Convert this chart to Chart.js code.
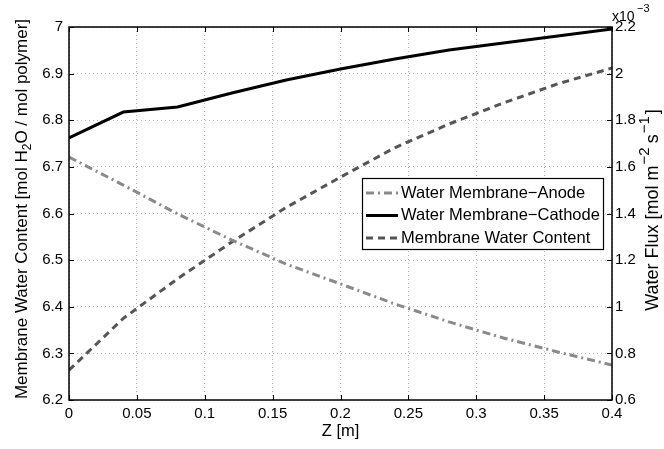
<!DOCTYPE html>
<html>
<head>
<meta charset="utf-8">
<script src="https://cdn.jsdelivr.net/npm/chart.js@4"></script>
<style>
  body { margin: 0; background: #fff; }
  canvas { display: block; }
</style>
</head>
<body>
<canvas id="fluxChart" width="664" height="449"></canvas>
<script>
// Data
const zValues = [0, 0.04, 0.08, 0.12, 0.16, 0.2, 0.24, 0.28, 0.32, 0.36, 0.4];
// water flux, in units of 1e-3 mol m^-2 s^-1 (right axis)
const anodeFlux = [1.642, 1.522, 1.398, 1.286, 1.183, 1.098, 1.012, 0.935, 0.866, 0.806, 0.750];
const cathodeFlux = [1.724, 1.835, 1.857, 1.917, 1.973, 2.020, 2.063, 2.101, 2.131, 2.161, 2.191];
// membrane water content (left axis)
const waterContent = [6.264, 6.375, 6.460, 6.539, 6.613, 6.678, 6.741, 6.792, 6.837, 6.878, 6.912];

const xTicks = [0, 0.05, 0.1, 0.15, 0.2, 0.25, 0.3, 0.35, 0.4];
const leftTicks = [6.2, 6.3, 6.4, 6.5, 6.6, 6.7, 6.8, 6.9, 7];
const rightTicks = [0.6, 0.8, 1, 1.2, 1.4, 1.6, 1.8, 2, 2.2];

const seriesNames = ['Water Membrane\u2212Anode', 'Water Membrane\u2212Cathode', 'Membrane Water Content'];

const FONT = '"Liberation Sans", Arial, Helvetica, sans-serif';
const pts = (ys) => zValues.map((z, i) => ({ x: z, y: ys[i] }));
const fmt = (v) => String(Math.round(v * 100) / 100);

// text with sub/superscripts: parts are [text, shift, gapAfter] (shift -1 = sup, 1 = sub)
function richText(ctx, parts, size, cx, cy, rot, small) {
  const fontOf = (p) => (p[1] ? Math.round(size * small) : size) + 'px ' + FONT;
  let total = 0;
  parts.forEach(p => { ctx.font = fontOf(p); total += ctx.measureText(p[0]).width + (p[2] || 0); });
  ctx.save();
  ctx.translate(cx, cy);
  ctx.rotate(rot);
  ctx.textAlign = 'left';
  ctx.textBaseline = 'middle';
  ctx.fillStyle = '#000';
  let x = -total / 2;
  parts.forEach(p => {
    ctx.font = fontOf(p);
    const dy = p[1] === -1 ? -size * 0.45 : p[1] === 1 ? size * 0.35 : 0;
    ctx.fillText(p[0], x, dy);
    x += ctx.measureText(p[0]).width + (p[2] || 0);
  });
  ctx.restore();
}

// box, inward ticks, legend, axis titles and exponent
const matlabFrame = {
  id: 'matlabFrame',
  afterDraw(chart) {
    const { ctx, chartArea: a, scales } = chart;
    ctx.save();
    ctx.strokeStyle = '#000';
    ctx.lineWidth = 1.5;
    ctx.setLineDash([]);
    ctx.strokeRect(a.left, a.top, a.right - a.left, a.bottom - a.top);

    ctx.lineWidth = 1;
    ctx.beginPath();
    xTicks.forEach(v => {
      const px = Math.round(scales.x.getPixelForValue(v)) + 0.5;
      ctx.moveTo(px, a.bottom); ctx.lineTo(px, a.bottom - 5);
      ctx.moveTo(px, a.top); ctx.lineTo(px, a.top + 5);
    });
    leftTicks.forEach(v => {
      const py = Math.round(scales.y.getPixelForValue(v)) + 0.5;
      ctx.moveTo(a.left, py); ctx.lineTo(a.left + 5, py);
    });
    rightTicks.forEach(v => {
      const py = Math.round(scales.y1.getPixelForValue(v)) + 0.5;
      ctx.moveTo(a.right, py); ctx.lineTo(a.right - 5, py);
    });
    ctx.stroke();

    // legend
    const lx = 362, ly = 178, lw = 241, lh = 71;
    ctx.fillStyle = '#fff';
    ctx.fillRect(lx, ly, lw, lh);
    ctx.strokeStyle = '#000';
    ctx.lineWidth = 1.2;
    ctx.strokeRect(lx + 0.5, ly + 0.5, lw, lh);
    ctx.font = '16.5px ' + FONT;
    ctx.textBaseline = 'middle';
    ctx.textAlign = 'left';
    chart.data.datasets.forEach((ds, i) => {
      const y = ly + 15 + i * 22.5;
      ctx.strokeStyle = ds.borderColor;
      ctx.lineWidth = ds.borderWidth;
      ctx.setLineDash(ds.borderDash || []);
      ctx.beginPath();
      ctx.moveTo(lx + 4, y); ctx.lineTo(lx + 36, y);
      ctx.stroke();
      ctx.setLineDash([]);
      ctx.fillStyle = '#000';
      ctx.fillText(ds.label, lx + 39, y);
    });

    // axis titles, both read bottom to top
    richText(ctx, [['Membrane Water Content [mol H', 0], ['2', 1], ['O / mol polymer]', 0]],
      17, 22, 209, -Math.PI / 2, 0.7);
    richText(ctx, [['Water Flux [mol m', 0, 1], ['\u22122', -1, 4], ['s', 0, 1], ['\u22121', -1, 2], [']', 0]],
      18, 653, 210, -Math.PI / 2, 0.85);

    // exponent label
    ctx.fillStyle = '#000';
    ctx.textAlign = 'left';
    ctx.textBaseline = 'alphabetic';
    ctx.font = '14px ' + FONT;
    ctx.fillText('x', 612, 21);
    ctx.fillText('10', 619, 21);
    ctx.font = '11px ' + FONT;
    ctx.fillText('\u22123', 637, 12);
    ctx.restore();
  }
};

new Chart(document.getElementById('fluxChart'), {
  type: 'line',
  data: {
    datasets: [
      {
        label: seriesNames[0],
        data: pts(anodeFlux),
        yAxisID: 'y1',
        borderColor: '#8a8a8a',
        borderWidth: 3,
        borderDash: [8, 4, 2, 4],
        pointRadius: 0,
        tension: 0
      },
      {
        label: seriesNames[1],
        data: pts(cathodeFlux),
        yAxisID: 'y1',
        borderColor: '#000000',
        borderWidth: 3,
        pointRadius: 0,
        tension: 0
      },
      {
        label: seriesNames[2],
        data: pts(waterContent),
        yAxisID: 'y',
        borderColor: '#555555',
        borderWidth: 3,
        borderDash: [7, 5],
        pointRadius: 0,
        tension: 0
      }
    ]
  },
  options: {
    responsive: false,
    animation: false,
    devicePixelRatio: 1,
    layout: { padding: { top: 27, left: 0, right: 0, bottom: 0 } },
    plugins: { legend: { display: false }, tooltip: { enabled: false } },
    scales: {
      x: {
        type: 'linear',
        min: 0, max: 0.4,
        afterBuildTicks: (s) => { s.ticks = xTicks.map(v => ({ value: v })); },
        afterFit: (s) => { s.height = 49; },
        ticks: { color: '#000', font: { size: 15, family: FONT }, padding: 5, maxRotation: 0, callback: fmt },
        grid: { color: '#b4b4b4', lineWidth: 1, drawTicks: false },
        border: { display: false, dash: [1, 3] },
        title: { display: true, text: 'Z [m]', color: '#000', font: { size: 16.5, family: FONT }, padding: { top: 0, bottom: 8 } }
      },
      y: {
        position: 'left',
        min: 6.2, max: 7,
        afterBuildTicks: (s) => { s.ticks = leftTicks.map(v => ({ value: v })); },
        afterFit: (s) => { s.width = 69; },
        ticks: { color: '#000', font: { size: 15, family: FONT }, padding: 6, callback: fmt },
        grid: { color: '#b4b4b4', lineWidth: 1, drawTicks: false },
        border: { display: false, dash: [1, 3] }
      },
      y1: {
        position: 'right',
        min: 0.6, max: 2.2,
        afterBuildTicks: (s) => { s.ticks = rightTicks.map(v => ({ value: v })); },
        afterFit: (s) => { s.width = 52; },
        ticks: { color: '#000', font: { size: 15, family: FONT }, padding: 3, callback: fmt },
        grid: { display: false, drawTicks: false },
        border: { display: false }
      }
    }
  },
  plugins: [matlabFrame]
});
</script>
</body>
</html>
